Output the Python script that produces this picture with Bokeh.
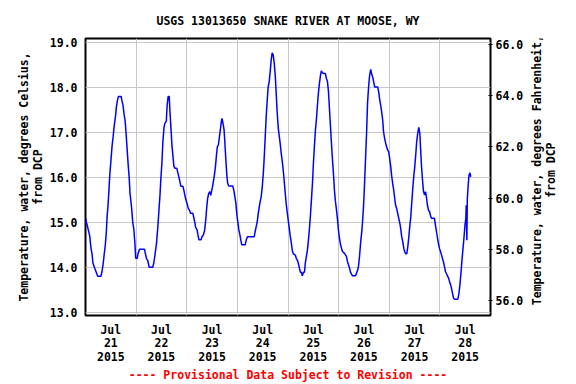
import math
from bokeh.plotting import figure
from bokeh.layouts import row
from bokeh.models import (Range1d, LinearAxis, FixedTicker, NumeralTickFormatter,
                          ColumnDataSource, Grid, Label)
from bokeh.embed import file_html
from bokeh.resources import INLINE

# ---------------- data ----------------
title_text = "USGS 13013650 SNAKE RIVER AT MOOSE, WY"
left_label = "Temperature, water, degrees Celsius,\nfrom DCP"
right_label = "Temperature, water, degrees Fahrenheit,\nfrom DCP"
footnote = "---- Provisional Data Subject to Revision ----"
month_label = "Jul"
year_label = "2015"
day_labels = ["21", "22", "23", "24", "25", "26", "27", "28"]
celsius_ticks = [13, 14, 15, 16, 17, 18, 19]
fahrenheit_ticks = [56, 58, 60, 62, 64, 66]
celsius_range = (12.927, 19.089)
fahrenheit_range = (55.42, 66.22)

# hours since 2015-07-21 00:00
hours = [
    0.0, 0.4, 1.0, 1.5, 2.0, 2.3, 2.7, 3.1, 3.5, 4.2,
    5.0, 5.8, 7.3, 7.8, 8.3, 8.9, 9.4, 9.9, 10.2, 10.7,
    11.1, 11.5, 12.1, 12.6, 13.1, 13.5, 14.2, 14.6, 15.1, 15.6,
    16.9, 17.3, 17.8, 18.3, 18.8, 19.2, 19.7, 20.2, 20.7, 21.1,
    21.8, 22.4, 22.9, 23.4, 23.8, 24.5, 24.9, 25.6, 28.0, 28.4,
    28.9, 29.5, 30.2, 31.9, 32.4, 33.0, 33.7, 34.3, 34.8, 35.3,
    35.7, 36.2, 36.7, 37.2, 37.6, 38.3, 38.7, 39.2, 39.7, 40.0,
    40.5, 41.0, 41.4, 41.9, 42.4, 43.3, 43.8, 44.3, 44.8, 45.2,
    46.2, 46.7,
    47.1, 47.6, 48.3, 48.7, 49.4, 49.8, 50.9, 51.4, 51.9, 52.2,
    52.9, 53.3, 53.8, 54.8, 55.2, 55.9, 56.5, 57.0, 57.5, 57.9,
    58.4, 58.9, 59.4, 59.7, 60.2, 60.6, 61.1, 61.6, 62.1, 62.5,
    63.0, 63.5, 64.0, 64.4, 64.7, 65.2, 65.7, 66.0, 66.5, 67.0,
    67.4, 67.9, 69.8, 70.3, 70.8, 71.3, 71.7, 72.2, 72.7, 73.2,
    73.6, 74.1, 75.7, 76.2, 76.8, 80.0, 80.4, 80.9, 81.4, 81.9,
    82.4, 82.8, 83.3, 83.8, 84.3, 84.7, 85.2, 85.7, 86.2, 86.6,
    87.1, 87.6, 88.1, 88.5, 89.0, 89.5, 90.0, 90.4, 90.9, 91.4,
    91.9, 92.3, 92.8, 93.3, 93.8, 94.3, 94.7, 95.2, 95.7, 96.1,
    96.6,
    97.1, 97.6, 98.0, 98.5, 99.5, 99.9, 100.4, 100.9, 101.4, 101.9,
    102.3, 102.8, 103.3, 103.8, 104.2, 104.7, 105.2, 105.7, 106.1, 106.6,
    107.1, 107.6, 108.0, 108.5, 109.0, 109.5, 109.9, 110.4, 110.9, 111.4,
    111.8, 112.3, 112.8, 113.7, 114.2, 114.7, 115.2, 115.6, 116.1, 116.6,
    117.1, 117.6, 118.0, 118.5, 119.0, 119.5, 119.9, 120.4, 120.9, 121.4,
    121.8, 122.8, 123.3, 123.7, 124.2, 124.7, 125.2, 125.6, 126.6, 128.0,
    128.5, 129.0, 129.4, 129.9, 130.4, 130.9, 131.3, 131.8, 132.3, 132.8,
    133.3, 133.7, 134.2, 134.7, 135.2, 135.6, 136.1, 136.6, 137.1, 138.5,
    139.0, 139.4, 139.9, 140.4, 140.9, 141.3, 141.8, 142.3,
    143.2, 143.7, 144.2, 144.7, 145.1, 145.6, 146.1, 146.6, 147.0, 147.5,
    148.0, 148.5, 149.0, 149.4, 149.9, 150.4, 150.9, 151.3, 151.8, 152.3,
    152.8, 153.2, 153.7, 154.2, 154.7, 155.1, 155.6, 156.1, 156.6, 157.0,
    157.5, 158.0, 158.5, 158.8, 159.3, 159.7, 160.2, 160.7, 161.2, 161.6,
    162.1, 162.6, 163.1, 163.5, 164.0, 165.4, 165.9, 166.4, 166.9, 167.3,
    167.8, 168.3, 168.8, 169.2, 169.7, 170.2, 170.7, 171.2, 171.6, 172.1,
    172.6, 173.1, 173.5, 174.0, 174.5, 175.0, 176.5, 177.0, 177.5, 178.0,
    178.4, 178.9, 179.4, 179.9, 180.3, 180.5, 180.8, 181.0, 181.3, 181.8,
    182.3, 182.6,
]

temp_c = [
    15.1, 15.0, 14.9, 14.8, 14.7, 14.55, 14.4, 14.3, 14.1, 14.0,
    13.9, 13.8, 13.8, 13.9, 14.05, 14.3, 14.5, 14.8, 15.1, 15.4,
    15.7, 16.05, 16.4, 16.7, 16.9, 17.1, 17.35, 17.55, 17.7, 17.8,
    17.8, 17.7, 17.6, 17.4, 17.25, 17.0, 16.65, 16.3, 16.0, 15.65,
    15.35, 15.0, 14.85, 14.55, 14.2, 14.2, 14.3, 14.4, 14.4, 14.3,
    14.2, 14.15, 14.0, 14.0, 14.1, 14.3, 14.55, 14.9, 15.25, 15.6,
    15.95, 16.3, 16.8, 17.1, 17.2, 17.25, 17.6, 17.8, 17.8, 17.5,
    17.1, 16.7, 16.5, 16.25, 16.2, 16.2, 16.1, 16.0, 15.9, 15.8,
    15.8, 15.7,
    15.6, 15.5, 15.39, 15.31, 15.26, 15.2, 15.2, 15.09, 14.98, 14.89,
    14.83, 14.72, 14.61, 14.61, 14.68, 14.72, 14.83, 15.05, 15.35, 15.53,
    15.64, 15.68, 15.6, 15.68, 15.79, 15.9, 16.05, 16.24, 16.5, 16.68,
    16.72, 16.9, 17.09, 17.24, 17.31, 17.2, 17.05, 16.83, 16.42, 16.05,
    15.87, 15.81, 15.81, 15.72, 15.57, 15.42, 15.2, 15.01, 14.83, 14.72,
    14.61, 14.5, 14.5, 14.61, 14.68, 14.68, 14.79, 14.9, 15.01, 15.2,
    15.35, 15.46, 15.57, 15.79, 16.09, 16.42, 16.9, 17.38, 17.75, 18.01,
    18.13, 18.38, 18.64, 18.77, 18.72, 18.53, 18.24, 17.87, 17.42, 17.09,
    16.9, 16.75, 16.53, 16.35, 16.13, 15.87, 15.64, 15.39, 15.2, 15.05,
    14.87,
    14.68, 14.53, 14.38, 14.3, 14.27, 14.2, 14.16, 14.09, 13.98, 13.89,
    13.89, 13.81, 13.89, 13.89, 14.09, 14.24, 14.38, 14.61, 14.83, 15.13,
    15.5, 15.87, 16.27, 16.68, 17.05, 17.31, 17.57, 17.87, 18.09, 18.27,
    18.37, 18.33, 18.31, 18.31, 18.2, 18.13, 17.9, 17.57, 17.16, 16.76,
    16.38, 16.05, 15.72, 15.46, 15.27, 15.05, 14.83, 14.64, 14.5, 14.42,
    14.35, 14.31, 14.27, 14.24, 14.13, 14.05, 13.98, 13.89, 13.81, 13.81,
    13.87, 13.94, 14.01, 14.24, 14.53, 14.76, 14.98, 15.35, 15.87, 16.46,
    17.05, 17.64, 18.01, 18.27, 18.4, 18.31, 18.24, 18.13, 18.01, 18.01,
    17.9, 17.75, 17.61, 17.46, 17.27, 17.01, 16.87, 16.76,
    16.61, 16.57, 16.42, 16.24, 16.05, 15.87, 15.72, 15.53, 15.38, 15.31,
    15.2, 15.09, 14.98, 14.87, 14.68, 14.57, 14.42, 14.35, 14.3, 14.3,
    14.46, 14.64, 14.9, 15.12, 15.46, 15.72, 16.01, 16.24, 16.53, 16.79,
    16.98, 17.11, 16.98, 16.68, 16.24, 15.98, 15.7, 15.61, 15.68, 15.57,
    15.38, 15.27, 15.24, 15.16, 15.09, 15.09, 14.94, 14.79, 14.64, 14.53,
    14.42, 14.35, 14.27, 14.2, 14.12, 14.01, 13.9, 13.85, 13.81, 13.76,
    13.68, 13.61, 13.53, 13.42, 13.31, 13.29, 13.29, 13.41, 13.61, 13.87,
    14.12, 14.38, 14.64, 14.94, 15.09, 15.38, 14.6, 15.5, 15.75, 16.05,
    16.1, 16.01,
]

# ---------------- styling ----------------
FONT = "DejaVu Sans Mono"
FSIZE = "11.5px"
W, H = 576, 384
SIDE_W = 48                      # strip that carries the right-hand axis title
MAIN_W = W - SIDE_W
BORDER_L, BORDER_T, BORDER_B = 85, 38, 68
BORDER_R = MAIN_W - 490
RIGHT_TITLE_X = 15.3             # within the strip
RIGHT_TITLE_CENTER_FROM_TOP = 182.5
n_days = len(day_labels)
day_starts = [24 * i for i in range(n_days + 1)]
day_mids = [24 * i + 12 for i in range(n_days)]

p = figure(width=MAIN_W, height=H,
           x_range=Range1d(0, 24 * n_days),
           y_range=Range1d(*celsius_range),
           x_axis_type=None, y_axis_type=None,
           output_backend="svg", toolbar_location=None,
           min_border_left=BORDER_L, min_border_right=BORDER_R,
           min_border_top=BORDER_T, min_border_bottom=BORDER_B)
p.extra_y_ranges = {"f": Range1d(*fahrenheit_range)}
p.background_fill_color = "white"
p.border_fill_color = "white"
p.outline_line_color = "black"
p.outline_line_width = 2
p.outline_line_alpha = 1.0

p.title.text = title_text
p.title.align = "center"
p.title.text_font = FONT
p.title.text_font_style = "bold"
p.title.text_font_size = FSIZE
p.title.text_color = "black"
p.title.standoff = 22


def style_axis(ax):
    ax.axis_line_color = None
    ax.major_tick_line_color = None
    ax.minor_tick_line_color = None
    ax.major_tick_in = 0
    ax.major_tick_out = 0
    ax.minor_tick_in = 0
    ax.minor_tick_out = 0
    ax.major_label_text_font = FONT
    ax.major_label_text_font_style = "bold"
    ax.major_label_text_font_size = FSIZE
    ax.major_label_text_color = "black"
    ax.major_label_text_line_height = 0.97
    ax.axis_label_text_font = FONT
    ax.axis_label_text_font_style = "bold"
    ax.axis_label_text_font_size = FSIZE
    ax.axis_label_text_color = "black"
    ax.axis_label_text_line_height = 0.95


# left (Celsius)
yl = LinearAxis(ticker=FixedTicker(ticks=celsius_ticks),
                formatter=NumeralTickFormatter(format="0.0"))
style_axis(yl)
yl.axis_label = left_label
yl.major_label_standoff = 8
yl.axis_label_standoff = 2
p.add_layout(yl, "left")

# right (Fahrenheit)
yr = LinearAxis(y_range_name="f", ticker=FixedTicker(ticks=fahrenheit_ticks),
                formatter=NumeralTickFormatter(format="0.0"))
style_axis(yr)
yr.major_tick_line_color = "black"
yr.major_tick_line_width = 1
yr.major_tick_in = 2
yr.major_tick_out = 2
yr.major_label_standoff = 3
p.add_layout(yr, "right")

# bottom (dates) with the provisional-data note as its label
xb = LinearAxis(ticker=FixedTicker(ticks=day_mids))
style_axis(xb)
xb.major_label_overrides = {m: f"{month_label}\n{d}\n{year_label}"
                            for m, d in zip(day_mids, day_labels)}
xb.major_label_standoff = 7
xb.axis_label = footnote
xb.axis_label_text_color = "#ff0000"
xb.axis_label_standoff = 1
p.add_layout(xb, "below")

# grids
gx = Grid(dimension=0, ticker=FixedTicker(ticks=day_starts),
          grid_line_color="#c8c8c8", grid_line_width=1)
gy = Grid(dimension=1, ticker=FixedTicker(ticks=celsius_ticks),
          grid_line_color="#c8c8c8", grid_line_width=1)
p.add_layout(gx)
p.add_layout(gy)

src = ColumnDataSource(data=dict(hours=hours, temp_c=temp_c))
p.line(x="hours", y="temp_c", source=src, line_color="#0000ff", line_width=1.5)

# narrow strip on the right holding the Fahrenheit axis title (bottom-to-top)
side = figure(width=SIDE_W, height=H, title=None,
              x_range=Range1d(0, SIDE_W), y_range=Range1d(0, H),
              x_axis_type=None, y_axis_type=None,
              output_backend="svg", toolbar_location=None,
              min_border_left=0, min_border_right=0,
              min_border_top=0, min_border_bottom=0)
side.outline_line_color = None
side.background_fill_color = "white"
side.border_fill_color = "white"
side.add_layout(Label(x=RIGHT_TITLE_X, y=H - RIGHT_TITLE_CENTER_FROM_TOP,
                      text=right_label, angle=math.pi / 2, text_align="center",
                      text_baseline="middle", text_font=FONT,
                      text_font_style="bold", text_font_size=FSIZE,
                      text_color="black", text_line_height=1.0))

layout = row(p, side)
open("out.html", "w").write(file_html(layout, INLINE))
